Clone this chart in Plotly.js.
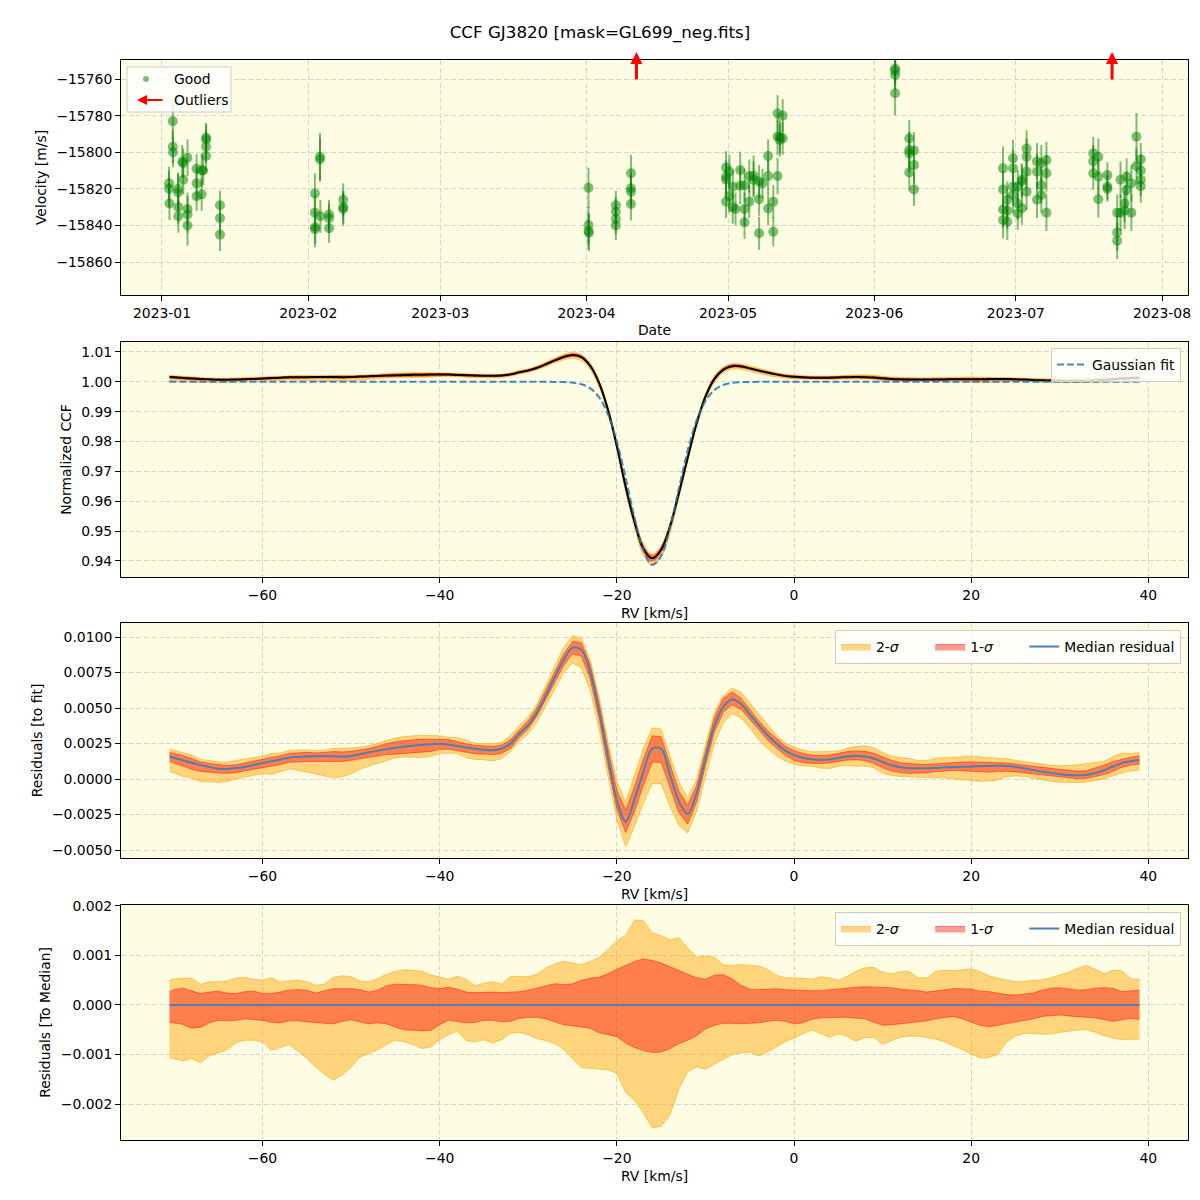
<!DOCTYPE html>
<html><head><meta charset="utf-8">
<script src="https://cdn.plot.ly/plotly-3.0.1.min.js"></script>
<style>html,body{margin:0;padding:0;background:#fff}</style>
</head><body>
<div id="chart" style="width:1200px;height:1200px"></div>
<script>
// ---------- Panel 1: RV time series ----------
const obsDates = [
 '2023-01-02 12:00','2023-01-02 12:00','2023-01-02 14:00','2023-01-03 07:00','2023-01-03 07:00','2023-01-03 08:00','2023-01-04 10:00','2023-01-04 10:00','2023-01-04 11:00','2023-01-04 11:00',
 '2023-01-05 07:00','2023-01-05 12:00','2023-01-05 12:00','2023-01-06 10:00','2023-01-06 10:00','2023-01-06 10:00','2023-01-06 10:00','2023-01-08 08:00','2023-01-08 08:00','2023-01-08 08:00',
 '2023-01-09 10:00','2023-01-09 10:00','2023-01-09 18:00','2023-01-10 08:00','2023-01-10 08:00','2023-01-10 08:00','2023-01-10 09:00','2023-01-13 07:00','2023-01-13 07:00','2023-01-13 07:00',
 '2023-02-02 10:00','2023-02-02 10:00','2023-02-02 10:00','2023-02-02 12:00','2023-02-03 12:00','2023-02-03 12:00','2023-02-03 14:00','2023-02-05 10:00','2023-02-05 10:00','2023-02-05 10:00','2023-02-08 10:00','2023-02-08 10:00','2023-02-08 10:00',
 '2023-04-01 10:00','2023-04-01 10:00','2023-04-01 10:00','2023-04-01 12:00','2023-04-07 05:00','2023-04-07 05:00','2023-04-07 05:00','2023-04-07 05:00','2023-04-10 10:00','2023-04-10 10:00','2023-04-10 10:00','2023-04-10 10:00',
 '2023-04-30 14:00','2023-04-30 14:00','2023-04-30 14:00','2023-04-30 14:00','2023-05-01 07:00','2023-05-01 07:00','2023-05-02 00:00','2023-05-02 00:00','2023-05-02 14:00','2023-05-03 14:00',
 '2023-05-03 14:00','2023-05-04 12:00','2023-05-04 12:00','2023-05-04 12:00','2023-05-05 12:00','2023-05-05 12:00','2023-05-06 10:00','2023-05-06 10:00','2023-05-07 14:00','2023-05-07 14:00',
 '2023-05-07 14:00','2023-05-08 07:00','2023-05-09 12:00','2023-05-09 12:00','2023-05-09 12:00','2023-05-10 14:00','2023-05-10 14:00','2023-05-11 12:00','2023-05-11 12:00','2023-05-11 12:00',
 '2023-05-12 00:00','2023-05-12 00:00','2023-05-12 14:00','2023-05-12 14:00',
 '2023-06-05 10:00','2023-06-05 10:00','2023-06-05 10:00','2023-06-05 10:00','2023-06-08 10:00','2023-06-08 10:00','2023-06-08 10:00','2023-06-08 10:00','2023-06-09 10:00','2023-06-09 10:00','2023-06-09 10:00',
 '2023-06-28 07:00','2023-06-28 07:00','2023-06-28 07:00','2023-06-28 07:00','2023-06-29 05:00','2023-06-29 05:00','2023-06-29 05:00','2023-06-30 10:00','2023-06-30 10:00','2023-06-30 10:00',
 '2023-06-30 10:00','2023-07-01 10:00','2023-07-01 10:00','2023-07-01 10:00','2023-07-02 07:00','2023-07-02 07:00','2023-07-02 07:00','2023-07-03 07:00','2023-07-03 07:00','2023-07-03 07:00',
 '2023-07-03 07:00','2023-07-05 12:00','2023-07-05 12:00','2023-07-05 12:00','2023-07-06 10:00','2023-07-06 10:00','2023-07-06 10:00','2023-07-07 12:00','2023-07-07 12:00','2023-07-07 12:00',
 '2023-07-17 10:00','2023-07-17 10:00','2023-07-17 10:00','2023-07-18 12:00','2023-07-18 12:00','2023-07-18 12:00','2023-07-20 10:00','2023-07-20 10:00','2023-07-20 10:00','2023-07-22 12:00',
 '2023-07-22 12:00','2023-07-22 12:00','2023-07-23 05:00','2023-07-23 05:00','2023-07-24 02:00','2023-07-24 02:00','2023-07-24 12:00','2023-07-24 12:00','2023-07-25 12:00','2023-07-25 12:00',
 '2023-07-26 14:00','2023-07-26 14:00','2023-07-27 12:00','2023-07-27 12:00','2023-07-27 12:00','2023-07-27 12:00'
];
const obsRV = [
 -15817,-15820,-15828,-15783,-15797,-15800,-15820,-15822,-15830,-15835,
 -15805,-15806,-15815,-15803,-15831,-15834,-15840,-15809,-15817,-15824,
 -15810,-15823,-15810,-15792,-15797,-15802,-15793,-15829,-15836,-15845,
 -15822.5,-15833,-15842,-15841,-15802.5,-15804,-15835,-15834,-15836,-15841.5,-15826,-15830,-15831,
 -15819.4,-15839.8,-15843,-15844,-15829,-15832.5,-15836.5,-15840,-15811.5,-15819.7,-15821.6,-15828.3,
 -15808.4,-15813.3,-15815,-15827,-15810.5,-15824,-15818.8,-15830,-15831,-15809.7,
 -15818.3,-15818,-15831,-15838.3,-15813,-15827,-15812.8,-15815,-15816,-15825.7,
 -15844.3,-15817,-15802,-15813,-15830.7,-15827,-15843.4,-15778.8,-15791.5,-15813,
 -15791.5,-15793.3,-15780,-15792.4,
 -15754.2,-15755.5,-15757.8,-15767.8,-15792.4,-15798.8,-15800.6,-15811,-15799,-15807,-15820.3,
 -15808.8,-15820.3,-15831.3,-15837,-15826,-15832,-15838,-15803.3,-15808.8,-15818.8,
 -15823.4,-15818.8,-15828,-15833.4,-15815,-15816,-15830.6,-15798,-15802.5,-15810.6,
 -15821.6,-15805,-15810.6,-15826,-15806,-15818,-15823.4,-15804.3,-15811.5,-15833,
 -15800.6,-15805,-15811.5,-15802.5,-15813.3,-15825.7,-15812.5,-15818.8,-15820,-15833,
 -15843.8,-15848.4,-15815,-15833,-15828,-15832,-15813.3,-15820.7,-15817,-15833,
 -15791.5,-15807.5,-15803.9,-15810,-15815,-15818.5
];
const obsErr = [
 9,10,9,10,9,8,9,10,9,9,
 9,8,8,10,9,10,11,8,9,8,
 9,9,8,8,9,9,8,8,9,9,
 11,10,10,9,13,12,9,8,8,8,9,9,9,
 11,10,10,10,8,8,8,8,10,9,9,9,
 9,9,9,9,9,9,9,9,9,10,
 10,9,9,9,9,9,11,10,9,9,
 9,8,9,9,9,9,8,10,10,10,
 9,9,9,9,
 8,8,8,12,10,10,10,10,10,10,9,
 12,10,10,10,10,10,10,10,10,10,
 10,9,9,9,9,9,9,10,10,10,
 10,10,10,10,10,10,10,10,10,10,
 9,9,9,10,10,10,7,7,7,10,
 10,10,10,10,10,10,10,10,10,10,
 13,10,9,9,9,9
];
const outlierDates = ['2023-04-11 14:00', '2023-07-21 10:00'];

// ---------- Panels 2-4: CCF and residuals ----------
const rv = [
 -70.5,-70,-69,-68,-67,-66,-65,-64,-63,-62,
 -61,-60,-59,-58,-57,-56,-55,-54,-53,-52,
 -51,-50,-49,-48,-47,-46,-45,-44,-43,-42,
 -41,-40,-39,-38,-37,-36,-35,-34,-33,-32,
 -31,-30,-29,-28,-27,-26,-25,-24,-23,-22,
 -21,-20,-19,-18,-17,-16,-15,-14,-13,-12,
 -11,-10,-9,-8,-7,-6,-5,-4,-3,-2,
 -1,0,1,2,3,4,5,6,7,8,
 9,10,11,12,13,14,15,16,17,18,
 19,20,21,22,23,24,25,26,27,28,
 29,30,31,32,33,34,35,36,37,38,
 39
];
const gaussFit = [
 1,1,1,1,1,1,1,1,1,1,
 1,1,1,1,1,1,1,1,1,1,
 1,1,1,1,1,1,1,1,1,1,
 1,1,1,1,1,1,1,1,1,1,
 1,1,1,1,0.99998,0.99993,0.99974,0.99920,0.99782,0.99480,
 0.98910,0.97998,0.96777,0.95448,0.94363,0.93877,0.94167,0.95127,0.96429,0.97706,
 0.98707,0.99361,0.99723,0.99895,0.99965,0.99990,0.99997,1,1,1,
 1,1,1,1,1,1,1,1,1,1,
 1,1,1,1,1,1,1,1,1,1,
 1,1,1,1,1,1,1,1,1,1,
 1,1,1,1,1,1,1,1,1,1,
 1
];
const medResid = [
 0.00160,0.00150,0.00132,0.00115,0.00098,0.00084,0.00073,0.00071,0.00077,0.00085,
 0.00098,0.00112,0.00125,0.00138,0.00150,0.00155,0.00158,0.00160,0.00162,0.00160,
 0.00157,0.00162,0.00175,0.00188,0.00200,0.00210,0.00220,0.00229,0.00235,0.00240,
 0.00245,0.00249,0.00242,0.00232,0.00222,0.00213,0.00206,0.00203,0.00215,0.00250,
 0.00320,0.00380,0.00470,0.00590,0.00720,0.00840,0.00925,0.00910,0.00750,0.00480,
 0.00150,-0.00150,-0.00300,-0.00140,0.00049,0.00215,0.00212,0.00030,-0.00157,-0.00245,
 -0.00101,0.00144,0.00370,0.00506,0.00560,0.00530,0.00455,0.00380,0.00310,0.00250,
 0.00200,0.00170,0.00150,0.00140,0.00135,0.00138,0.00148,0.00158,0.00162,0.00158,
 0.00145,0.00120,0.00097,0.00083,0.00076,0.00075,0.00076,0.00079,0.00082,0.00084,
 0.00086,0.00088,0.00090,0.00092,0.00093,0.00092,0.00085,0.00075,0.00063,0.00052,
 0.00042,0.00033,0.00028,0.00026,0.00028,0.00042,0.00062,0.00088,0.00112,0.00125,
 0.00134
];
// band edges relative to the median residual
const up2 = [
 0.00050,0.00052,0.00054,0.00054,0.00042,0.00047,0.00047,0.00049,0.00054,0.00056,
 0.00052,0.00050,0.00055,0.00046,0.00049,0.00050,0.00047,0.00040,0.00042,0.00056,
 0.00059,0.00057,0.00048,0.00047,0.00053,0.00062,0.00068,0.00071,0.00070,0.00068,
 0.00061,0.00056,0.00052,0.00058,0.00052,0.00039,0.00044,0.00047,0.00042,0.00058,
 0.00058,0.00057,0.00062,0.00075,0.00083,0.00088,0.00085,0.00081,0.00088,0.00096,
 0.00112,0.00130,0.00141,0.00172,0.00170,0.00146,0.00140,0.00132,0.00136,0.00115,
 0.00097,0.00099,0.00097,0.00081,0.00080,0.00082,0.00080,0.00079,0.00072,0.00060,
 0.00055,0.00055,0.00054,0.00052,0.00057,0.00055,0.00050,0.00058,0.00068,0.00075,
 0.00076,0.00066,0.00063,0.00067,0.00068,0.00055,0.00055,0.00068,0.00070,0.00069,
 0.00071,0.00073,0.00067,0.00059,0.00054,0.00050,0.00047,0.00048,0.00050,0.00051,
 0.00055,0.00060,0.00066,0.00074,0.00080,0.00072,0.00063,0.00070,0.00069,0.00053,
 0.00052
];
const up1 = [
 0.00027,0.00031,0.00034,0.00029,0.00023,0.00026,0.00028,0.00024,0.00023,0.00027,
 0.00028,0.00023,0.00023,0.00026,0.00030,0.00031,0.00030,0.00024,0.00028,0.00033,
 0.00033,0.00033,0.00031,0.00026,0.00030,0.00039,0.00042,0.00042,0.00041,0.00040,
 0.00035,0.00033,0.00036,0.00032,0.00026,0.00025,0.00026,0.00026,0.00025,0.00026,
 0.00027,0.00030,0.00034,0.00038,0.00043,0.00041,0.00043,0.00050,0.00054,0.00056,
 0.00063,0.00072,0.00080,0.00088,0.00093,0.00090,0.00085,0.00077,0.00070,0.00062,
 0.00055,0.00052,0.00060,0.00061,0.00053,0.00040,0.00032,0.00031,0.00032,0.00033,
 0.00031,0.00030,0.00030,0.00029,0.00029,0.00031,0.00033,0.00035,0.00036,0.00037,
 0.00036,0.00035,0.00035,0.00032,0.00031,0.00029,0.00026,0.00028,0.00031,0.00033,
 0.00033,0.00032,0.00028,0.00027,0.00024,0.00021,0.00020,0.00022,0.00024,0.00030,
 0.00034,0.00035,0.00033,0.00030,0.00031,0.00034,0.00035,0.00034,0.00027,0.00028,
 0.00030
];
const lo1 = [
 -0.00035,-0.00036,-0.00039,-0.00047,-0.00045,-0.00036,-0.00031,-0.00032,-0.00031,-0.00028,
 -0.00029,-0.00031,-0.00035,-0.00036,-0.00032,-0.00032,-0.00034,-0.00036,-0.00037,-0.00038,
 -0.00033,-0.00030,-0.00034,-0.00038,-0.00036,-0.00038,-0.00045,-0.00050,-0.00051,-0.00052,
 -0.00051,-0.00040,-0.00031,-0.00033,-0.00036,-0.00035,-0.00031,-0.00031,-0.00034,-0.00033,
 -0.00027,-0.00025,-0.00025,-0.00028,-0.00034,-0.00040,-0.00042,-0.00044,-0.00047,-0.00056,
 -0.00060,-0.00064,-0.00077,-0.00086,-0.00092,-0.00096,-0.00095,-0.00088,-0.00078,-0.00071,
 -0.00062,-0.00048,-0.00041,-0.00037,-0.00037,-0.00038,-0.00037,-0.00036,-0.00033,-0.00031,
 -0.00033,-0.00038,-0.00036,-0.00029,-0.00026,-0.00025,-0.00025,-0.00025,-0.00026,-0.00028,
 -0.00035,-0.00041,-0.00040,-0.00038,-0.00036,-0.00034,-0.00032,-0.00028,-0.00025,-0.00023,
 -0.00028,-0.00034,-0.00041,-0.00044,-0.00041,-0.00037,-0.00035,-0.00032,-0.00028,-0.00023,
 -0.00021,-0.00020,-0.00022,-0.00024,-0.00025,-0.00026,-0.00030,-0.00033,-0.00030,-0.00027,
 -0.00029
];
const lo2 = [
 -0.00107,-0.00108,-0.00113,-0.00108,-0.00117,-0.00102,-0.00097,-0.00090,-0.00076,-0.00071,
 -0.00071,-0.00075,-0.00092,-0.00086,-0.00080,-0.00093,-0.00108,-0.00125,-0.00140,-0.00152,
 -0.00141,-0.00126,-0.00105,-0.00098,-0.00090,-0.00080,-0.00071,-0.00074,-0.00080,-0.00088,
 -0.00085,-0.00070,-0.00060,-0.00053,-0.00072,-0.00075,-0.00070,-0.00077,-0.00070,-0.00057,
 -0.00055,-0.00060,-0.00068,-0.00072,-0.00078,-0.00090,-0.00108,-0.00127,-0.00128,-0.00129,
 -0.00131,-0.00138,-0.00177,-0.00193,-0.00218,-0.00248,-0.00245,-0.00222,-0.00170,-0.00135,
 -0.00125,-0.00130,-0.00120,-0.00110,-0.00100,-0.00097,-0.00095,-0.00103,-0.00095,-0.00085,
 -0.00074,-0.00067,-0.00058,-0.00050,-0.00058,-0.00065,-0.00058,-0.00063,-0.00073,-0.00066,
 -0.00065,-0.00080,-0.00072,-0.00065,-0.00063,-0.00063,-0.00066,-0.00069,-0.00075,-0.00082,
 -0.00090,-0.00099,-0.00107,-0.00106,-0.00100,-0.00075,-0.00063,-0.00057,-0.00058,-0.00059,
 -0.00058,-0.00055,-0.00053,-0.00051,-0.00050,-0.00055,-0.00062,-0.00066,-0.00070,-0.00069,
 -0.00069
];

// ---------- build ----------
const add = (a, b) => a.map((v, i) => v + b[i]);
const ccfMedian = add(gaussFit, medResid);
const zeroMed = medResid.map(v => v - v);

const C2 = 'rgba(255,165,0,0.45)', C2L = 'rgba(255,165,0,0.55)';
const C1 = 'rgba(255,0,0,0.40)', C1L = 'rgba(255,0,0,0.45)';
const NB = '\u00a0';

function bands(base, xa, ya, legendId, showLeg, shape) {
  const t = [];
  t.push({x: rv, y: add(base, lo2), mode: 'lines', line: {color: C2L, width: 1, shape: shape}, showlegend: false, xaxis: xa, yaxis: ya, hoverinfo: 'skip'});
  t.push({x: rv, y: add(base, up2), mode: 'lines', fill: 'tonexty', fillcolor: C2, line: {color: C2L, width: 1, shape: shape},
          name: '2-<i>σ</i>' + NB.repeat(6), legend: legendId, showlegend: showLeg, xaxis: xa, yaxis: ya, hoverinfo: 'skip'});
  t.push({x: rv, y: add(base, lo1), mode: 'lines', line: {color: C1L, width: 1, shape: shape}, showlegend: false, xaxis: xa, yaxis: ya, hoverinfo: 'skip'});
  t.push({x: rv, y: add(base, up1), mode: 'lines', fill: 'tonexty', fillcolor: C1, line: {color: C1L, width: 1, shape: shape},
          name: '1-<i>σ</i>' + NB.repeat(6), legend: legendId, showlegend: showLeg, xaxis: xa, yaxis: ya, hoverinfo: 'skip'});
  return t;
}

const traces = [];
traces.push({
  type: 'scatter', mode: 'markers', x: obsDates, y: obsRV, xaxis: 'x', yaxis: 'y', showlegend: false,
  marker: {color: 'rgba(0,128,0,0.5)', size: 10, line: {width: 0}},
  error_y: {type: 'data', array: obsErr, visible: true, color: 'rgba(0,128,0,0.5)', thickness: 2, width: 0}
});
// panel 2
traces.push(...bands(ccfMedian, 'x2', 'y2', 'legend2', false, 'spline'));
traces.push({x: rv, y: ccfMedian, mode: 'lines', line: {color: '#000', width: 2, shape: 'spline'}, showlegend: false, xaxis: 'x2', yaxis: 'y2'});
traces.push({x: rv, y: gaussFit, mode: 'lines', name: 'Gaussian fit', legend: 'legend2', line: {color: 'rgba(31,119,180,0.85)', width: 2, dash: '7px,3px', shape: 'spline'}, xaxis: 'x2', yaxis: 'y2'});
// panel 3
traces.push(...bands(medResid, 'x3', 'y3', 'legend3', true, 'linear'));
traces.push({x: rv, y: medResid, mode: 'lines', name: 'Median residual', legend: 'legend3', line: {color: '#4a80b4', width: 2, shape: 'spline'}, xaxis: 'x3', yaxis: 'y3'});
// panel 4
traces.push(...bands(zeroMed, 'x4', 'y4', 'legend4', true, 'linear'));
traces.push({x: rv, y: zeroMed, mode: 'lines', name: 'Median residual', legend: 'legend4', line: {color: '#4a80b4', width: 2}, xaxis: 'x4', yaxis: 'y4'});

const FS = 13.9;
const ax = {
  showline: true, linecolor: '#000', linewidth: 1, mirror: true,
  ticks: 'outside', ticklen: 5, tickwidth: 1, tickcolor: '#000',
  showgrid: true, gridcolor: '#cccccc', griddash: '5px,2.5px', gridwidth: 0.8,
  zeroline: false, tickfont: {size: FS, color: '#000'}, automargin: false
};
const rvAxis = (anchor) => Object.assign({}, ax, {anchor: anchor, range: [-75.975, 44.475], dtick: 20, tick0: 0,
  title: {text: 'RV [km/s]', font: {size: FS}, standoff: 6}});

const legendStyle = {bgcolor: 'rgba(255,255,255,0.8)', bordercolor: '#cccccc', borderwidth: 1, font: {size: FS, color: '#000'}, xref: 'paper', yref: 'paper', traceorder: 'normal'};

const px = (p) => (p - 121) / 1067;
const py = (p) => (1140 - p) / 1080;

const annotations = outlierDates.map(d => ({
  x: d, y: 1.034, xref: 'x', yref: 'y domain', ax: 0, ay: 29, text: '', showarrow: true,
  arrowhead: 2, arrowsize: 0.8, arrowwidth: 3, arrowcolor: 'red'
}));
annotations.push({x: px(172), y: py(79), xref: 'paper', yref: 'paper', text: 'Good', showarrow: false, xanchor: 'left', yanchor: 'middle', font: {size: FS, color: '#000'}});
annotations.push({x: px(172), y: py(100), xref: 'paper', yref: 'paper', text: 'Outliers', showarrow: false, xanchor: 'left', yanchor: 'middle', font: {size: FS, color: '#000'}});
annotations.push({x: px(137), y: py(100), xref: 'paper', yref: 'paper', ax: 27, ay: 0, text: '', showarrow: true, arrowhead: 2, arrowsize: 1, arrowwidth: 2, arrowcolor: 'red'});

const shapes = [
  {type: 'rect', xref: 'paper', yref: 'paper', x0: px(127), x1: px(231), y0: py(112), y1: py(67), fillcolor: 'rgba(255,255,255,0.8)', line: {color: '#cccccc', width: 1}, layer: 'above'},
  {type: 'circle', xref: 'paper', yref: 'paper', x0: px(143), x1: px(149), y0: py(82), y1: py(76), fillcolor: 'rgba(0,128,0,0.5)', line: {width: 0}, layer: 'above'}
];

const layout = {
  width: 1200, height: 1200,
  margin: {l: 121, r: 12, t: 60, b: 60},
  paper_bgcolor: '#ffffff', plot_bgcolor: '#fefce3',
  font: {family: 'DejaVu Sans', size: FS, color: '#000'},
  title: {text: 'CCF GJ3820 [mask=GL699_neg.fits]', font: {size: 16.7, color: '#000'}, x: 0.5, xref: 'container', y: 1 - 32 / 1200, yref: 'container', yanchor: 'middle', xanchor: 'center'},
  xaxis: Object.assign({}, ax, {type: 'date', anchor: 'y', range: ['2022-12-23 07:26', '2023-08-06 12:15'], dtick: 'M1', tick0: '2023-01-01', tickformat: '%Y-%m',
    title: {text: 'Date', font: {size: FS}, standoff: 5}}),
  yaxis: Object.assign({}, ax, {domain: [0.7824, 1], anchor: 'x', range: [-15878, -15749.6], dtick: 20, tick0: -15760, tickformat: 'd',
    title: {text: 'Velocity [m/s]', font: {size: FS}, standoff: 6}}),
  xaxis2: rvAxis('y2'),
  yaxis2: Object.assign({}, ax, {domain: [0.5213, 0.7389], anchor: 'x2', range: [0.93464, 1.01335], dtick: 0.01, tick0: 0.94, tickformat: '.2f',
    title: {text: 'Normalized CCF', font: {size: FS}, standoff: 6}}),
  xaxis3: rvAxis('y3'),
  yaxis3: Object.assign({}, ax, {domain: [0.2611, 0.4787], anchor: 'x3', range: [-0.005563, 0.010986], dtick: 0.0025, tick0: 0, tickformat: '.4f',
    title: {text: 'Residuals [to fit]', font: {size: FS}, standoff: 6}}),
  xaxis4: rvAxis('y4'),
  yaxis4: Object.assign({}, ax, {domain: [0, 0.2176], anchor: 'x4', range: [-0.002727, 0.00202], dtick: 0.001, tick0: 0, tickformat: '.3f',
    title: {text: 'Residuals [To Median]', font: {size: FS}, standoff: 6}}),
  legend2: Object.assign({}, legendStyle, {x: px(1181), xanchor: 'right', y: py(348), yanchor: 'top'}),
  legend3: Object.assign({}, legendStyle, {x: px(1181), xanchor: 'right', y: py(630), yanchor: 'top', orientation: 'h'}),
  legend4: Object.assign({}, legendStyle, {x: px(1181), xanchor: 'right', y: py(912), yanchor: 'top', orientation: 'h'}),
  annotations: annotations,
  shapes: shapes,
  hovermode: false
};

Plotly.newPlot('chart', traces, layout, {displayModeBar: false, staticPlot: true});
</script>
</body></html>
